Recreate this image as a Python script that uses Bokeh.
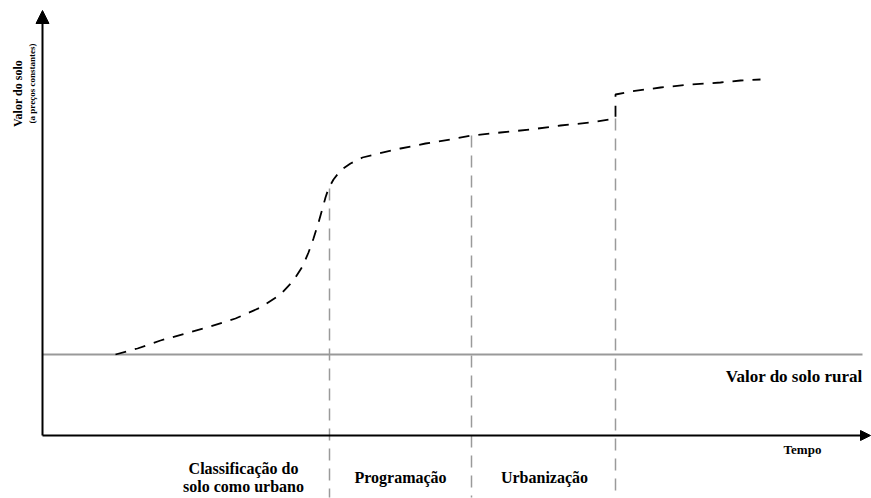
import math
from bokeh.plotting import figure
from bokeh.models import Range1d, Arrow, NormalHead, Label
from bokeh.embed import file_html
from bokeh.resources import INLINE

# ---- data (time vs land value, arbitrary units) ----
curve_t = [73, 95, 118, 143, 168, 193, 218, 238, 251, 260, 266, 271, 276, 280, 283, 286,
           291, 298, 308, 320, 336, 358, 383, 408, 429, 458, 488, 518, 548, 573,
           573, 588, 618, 648, 678, 698, 718]
curve_v = [81, 87, 95, 102, 109, 117, 128, 141, 155, 169, 183, 197, 213, 227, 238, 247,
           256, 265, 272, 278, 282, 287, 292, 296, 300, 303, 306, 310, 313, 317,
           341, 344, 348, 351, 353, 355, 356]
rural_value = 81
event_t = [287, 429, 573]
event_v = [247, 300, 317]
axis_t_max = 828
axis_v_max = 427
phase_labels = ["Classificação do\nsolo como urbano", "Programação", "Urbanização"]
phase_t = [201, 358, 502]

FONT = "Liberation Serif"

p = figure(width=871, height=498, x_range=Range1d(-42, 829), y_range=Range1d(-63, 435),
           output_backend="svg", toolbar_location=None, min_border=0)
p.axis.visible = False
p.grid.visible = False
p.outline_line_color = None

# vertical event lines
for t, v in zip(event_t, event_v):
    p.segment(x0=[t], y0=[v], x1=[t], y1=[-62], line_color="#9a9a9a", line_width=1.5,
              line_dash="12 8")

# rural value line
p.segment(x0=[0], y0=[rural_value], x1=[820], y1=[rural_value], line_color="#999999",
          line_width=2)

# axes with arrows
p.add_layout(Arrow(end=NormalHead(size=13, fill_color="black", line_color="black"),
                   x_start=0, y_start=0, x_end=0, y_end=axis_v_max - 2,
                   line_color="black", line_width=2))
p.add_layout(Arrow(end=NormalHead(size=10, fill_color="black", line_color="black"),
                   x_start=0, y_start=0, x_end=axis_t_max, y_end=0,
                   line_color="black", line_width=2))

# land value curve
p.line(curve_t, curve_v, line_color="black", line_width=1.8, line_dash="11 9")

# labels
p.add_layout(Label(x=-25, y=342, text="Valor do solo", angle=math.pi / 2, text_font=FONT,
                   text_font_style="bold", text_font_size="12px", text_align="center",
                   text_baseline="middle", text_color="black"))
p.add_layout(Label(x=-11, y=352, text="(a preços constantes)", angle=math.pi / 2,
                   text_font=FONT, text_font_style="bold", text_font_size="9px",
                   text_align="center", text_baseline="middle", text_color="black"))
p.add_layout(Label(x=820, y=rural_value - 22, text="Valor do solo rural", text_font=FONT,
                   text_font_style="bold", text_font_size="17px", text_align="right",
                   text_baseline="middle", text_color="black"))
p.add_layout(Label(x=760, y=-14, text="Tempo", text_font=FONT, text_font_style="bold",
                   text_font_size="13px", text_align="center", text_baseline="middle",
                   text_color="black"))
for t, lab in zip(phase_t, phase_labels):
    p.add_layout(Label(x=t, y=-42, text=lab, text_font=FONT, text_font_style="bold",
                       text_font_size="16px", text_align="center", text_baseline="middle",
                       text_line_height=1.1, text_color="black"))

open("out.html", "w").write(file_html(p, INLINE))
